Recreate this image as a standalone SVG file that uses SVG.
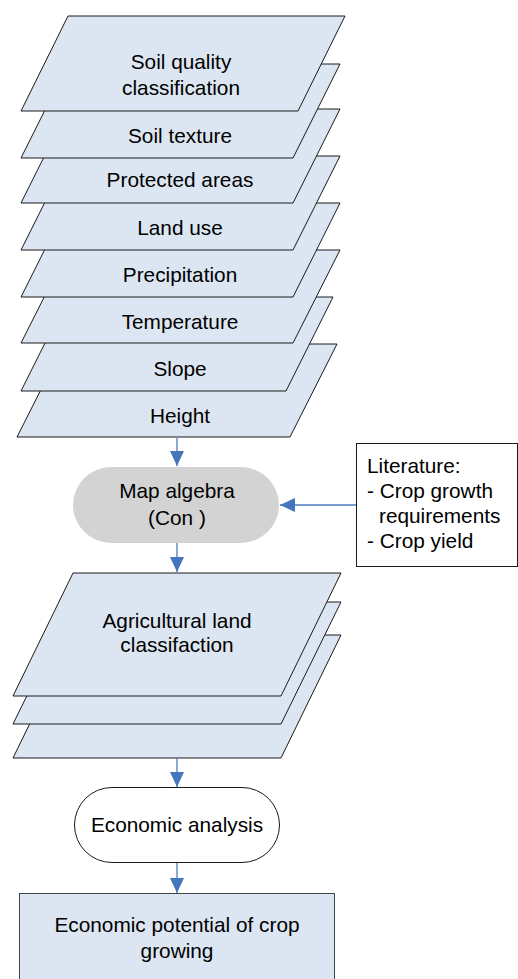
<svg xmlns="http://www.w3.org/2000/svg" width="518" height="979" viewBox="0 0 518 979">
<style>
.layer{fill:#dce6f2;stroke:#1a1a1a;stroke-width:1}
.t{font-family:"Liberation Sans",Arial,sans-serif;font-size:20.8px;fill:#000;text-anchor:middle}
.tl{font-family:"Liberation Sans",Arial,sans-serif;font-size:20.8px;fill:#000}
.conn{stroke:#4a7ebb;stroke-width:1.3;fill:none}
</style>
<defs>
<marker id="ah" viewBox="0 0 15 14" refX="15" refY="7" markerWidth="15" markerHeight="14" markerUnits="userSpaceOnUse" orient="auto">
<path d="M0,0 L15,7 L0,14 Z" fill="#4575bd"/>
</marker>
</defs>
<rect width="518" height="979" fill="#fff"/>

<g id="height"><polygon class="layer" points="64,344 337,344 290,437 17,437"/><text class="t" x="180" y="423">Height</text></g>
<g id="slope"><polygon class="layer" points="68,297 333,297 286,391 21,391"/><text class="t" x="180" y="376">Slope</text></g>
<g id="temperature"><polygon class="layer" points="68,250 340,250 293,343 21,343"/><text class="t" x="180" y="329">Temperature</text></g>
<g id="precipitation"><polygon class="layer" points="68,203 340,203 293,297 21,297"/><text class="t" x="180" y="282">Precipitation</text></g>
<g id="landuse"><polygon class="layer" points="68,156 340,156 293,250 21,250"/><text class="t" x="180" y="235">Land use</text></g>
<g id="protected"><polygon class="layer" points="68,109 340,109 293,203 21,203"/><text class="t" x="180" y="187">Protected areas</text></g>
<g id="soiltexture"><polygon class="layer" points="68,64 340,64 293,158 21,158"/><text class="t" x="180" y="143">Soil texture</text></g>
<g id="soilquality"><polygon class="layer" points="68,16 345,16 298,111 21,111"/><text class="t" x="181" y="69">Soil quality</text><text class="t" x="181" y="95">classification</text></g>

<g id="mapalgebra"><rect x="73" y="467" width="206" height="76" rx="38" ry="38" fill="#d3d3d3"/><text class="t" x="177" y="498">Map algebra</text><text class="t" x="177" y="525">(Con )</text></g>

<g id="literature"><rect x="356.5" y="443.5" width="161" height="123" fill="#fff" stroke="#1a1a1a" stroke-width="1"/>
<text class="tl" x="367" y="473">Literature:</text>
<text class="tl" x="367" y="498">- Crop growth</text>
<text class="tl" x="379" y="523">requirements</text>
<text class="tl" x="367" y="548">- Crop yield</text></g>

<g id="agri">
<polygon class="layer" points="73,635 341,635 281,758 13,758"/>
<polygon class="layer" points="73,602 341,602 281,724 13,724"/>
<polygon class="layer" points="73,573 341,573 281,696 13,696"/>
<text class="t" x="177" y="628">Agricultural land</text><text class="t" x="177" y="652">classifaction</text></g>

<g id="economic"><rect x="74.5" y="787.5" width="205" height="75" rx="37.5" ry="37.5" fill="#fff" stroke="#1a1a1a" stroke-width="1"/><text class="t" x="177" y="832">Economic analysis</text></g>

<g id="potential"><rect x="19.5" y="893.5" width="315" height="90" fill="#dce6f2" stroke="#444" stroke-width="1"/><text class="t" x="177" y="932">Economic potential of crop</text><text class="t" x="177" y="958">growing</text></g>

<g id="connectors">
<line class="conn" x1="177" y1="438" x2="177" y2="466" marker-end="url(#ah)"/>
<line class="conn" x1="356" y1="505" x2="280" y2="505" marker-end="url(#ah)"/>
<line class="conn" x1="177" y1="543" x2="177" y2="572" marker-end="url(#ah)"/>
<line class="conn" x1="177" y1="758" x2="177" y2="787" marker-end="url(#ah)"/>
<line class="conn" x1="177" y1="863" x2="177" y2="893" marker-end="url(#ah)"/>
</g>
</svg>
